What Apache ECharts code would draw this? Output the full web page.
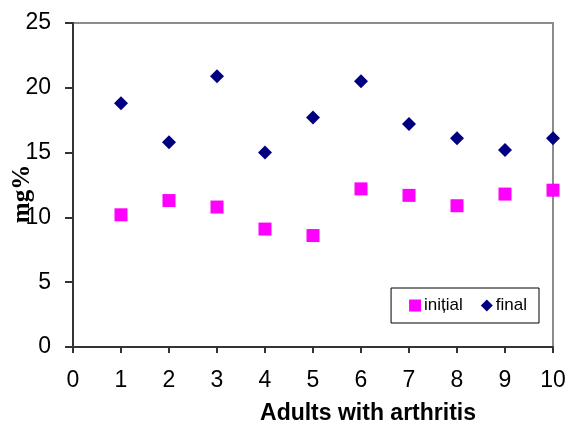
<!DOCTYPE html>
<html>
<head>
<meta charset="utf-8">
<script src="https://cdn.jsdelivr.net/npm/echarts@6/dist/echarts.min.js"></script>
<style>
  html, body { margin: 0; padding: 0; background: #fff; }
  #chart { width: 569px; height: 433px; }
</style>
</head>
<body>
<div id="chart"></div>
<script>
// subjects 1..10
const subjects = [1, 2, 3, 4, 5, 6, 7, 8, 9, 10]
const initialValues = [10.2, 11.3, 10.8, 9.1, 8.6, 12.2, 11.7, 10.9, 11.8, 12.1]
const finalValues = [18.8, 15.8, 20.9, 15.0, 17.7, 20.5, 17.2, 16.1, 15.2, 16.1]

const chart = echarts.init(document.getElementById('chart'), null, { renderer: 'canvas' })

const font = 'Liberation Sans, Arial, sans-serif'

chart.setOption({
  animation: false,
  backgroundColor: '#fff',
  grid: {
    left: 73,
    top: 23,
    right: 16,
    bottom: 86,
    containLabel: false,
    outerBoundsMode: 'none',
    show: true,
    borderColor: '#8c8c8c',
    borderWidth: 2,
    backgroundColor: 'transparent',
  },
  legend: {
    right: 30,
    top: 288,
    orient: 'horizontal',
    itemWidth: 12,
    itemHeight: 12,
    itemGap: 18,
    padding: [9, 12, 9, 18],
    borderColor: '#000',
    borderWidth: 1,
    backgroundColor: '#fff',
    textStyle: { fontFamily: font, fontSize: 17, color: '#000', padding: [0, 0, 0, -2] },
    data: [
      { name: 'inițial', icon: 'rect' },
      { name: 'final', icon: 'diamond' },
    ],
  },
  xAxis: {
    type: 'value',
    min: 0,
    max: 10,
    interval: 1,
    name: 'Adults with arthritis',
    nameLocation: 'middle',
    nameGap: 55,
    nameMoveOverlap: false,
    nameTextStyle: {
      fontFamily: font,
      fontSize: 23,
      fontWeight: 'bold',
      color: '#000',
      padding: [0, 0, 0, 110],
    },
    axisLine: { onZero: false, lineStyle: { color: '#333', width: 2 } },
    axisTick: { show: true, length: 6, lineStyle: { color: '#333', width: 2 } },
    axisLabel: { fontFamily: font, fontSize: 23, color: '#000', margin: 22 },
    splitLine: { show: false },
  },
  yAxis: {
    type: 'value',
    min: 0,
    max: 25,
    interval: 5,
    name: 'mg%',
    nameLocation: 'middle',
    nameGap: 38,
    nameMoveOverlap: false,
    nameTextStyle: {
      fontFamily: 'Liberation Serif, Times New Roman, serif',
      fontSize: 25,
      fontWeight: 'bold',
      color: '#000',
      padding: [0, 18, 0, 0],
    },
    axisLine: { show: true, onZero: false, lineStyle: { color: '#333', width: 2 } },
    axisTick: { show: true, length: 8, lineStyle: { color: '#333', width: 2 } },
    axisLabel: { fontFamily: font, fontSize: 23, color: '#000', margin: 22 },
    splitLine: { show: false },
  },
  series: [
    {
      name: 'inițial',
      type: 'scatter',
      symbol: 'rect',
      symbolSize: 13,
      itemStyle: { color: '#ff00ff', opacity: 1 },
      data: subjects.map((s, i) => [s, initialValues[i]]),
      z: 3,
    },
    {
      name: 'final',
      type: 'scatter',
      symbol: 'diamond',
      symbolSize: 14,
      itemStyle: { color: '#000080', opacity: 1 },
      data: subjects.map((s, i) => [s, finalValues[i]]),
      z: 3,
    },
  ],
})
</script>
</body>
</html>
